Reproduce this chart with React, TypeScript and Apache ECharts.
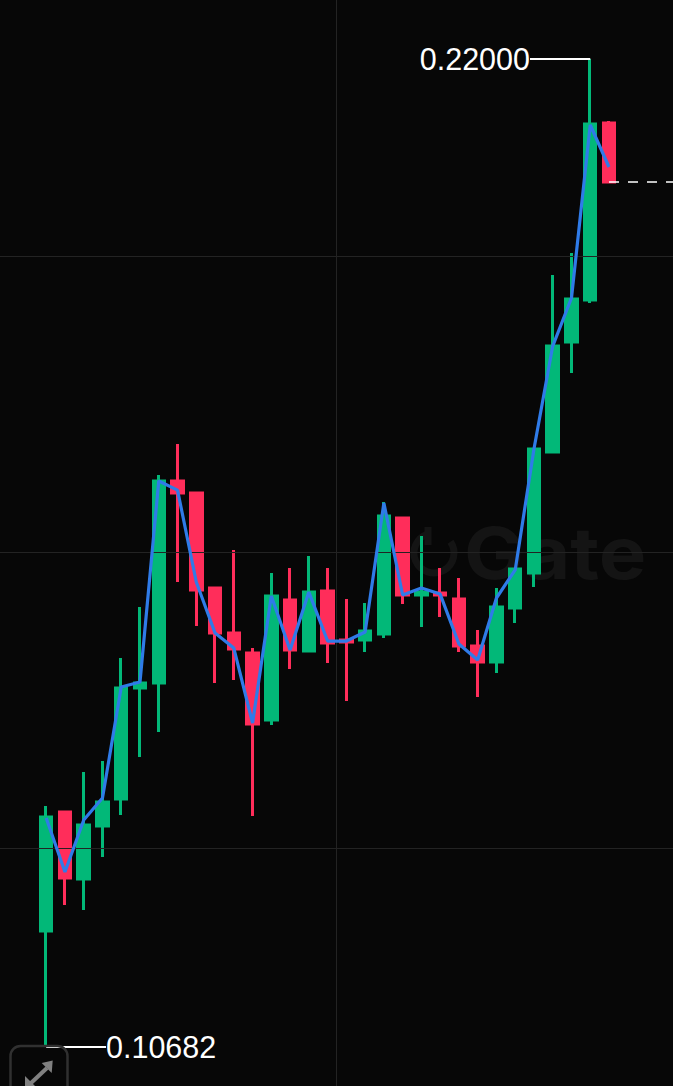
import React, { useEffect, useRef } from "react";
import * as echarts from "echarts";

const UP = "#02B878";
const DOWN = "#FF2D5A";
const BLUE = "#2F7BE8";
const BG = "#070707";
const GRID = "#232323";
const MARK = "#141414";

const leadingBlank = 1;
const trailingBlank = 2;

// [open, close, low, high]
const candles: number[][] = [
  [0.12011, 0.13317, 0.10682, 0.13443],
  [0.13374, 0.12618, 0.12309, 0.13386],
  [0.12607, 0.13225, 0.12252, 0.13833],
  [0.13214, 0.13489, 0.12859, 0.13958],
  [0.13523, 0.14795, 0.1334, 0.15138],
  [0.14795, 0.14852, 0.14004, 0.15723],
  [0.14852, 0.17166, 0.14291, 0.17235],
  [0.17166, 0.17028, 0.16009, 0.1759],
  [0.17028, 0.15917, 0.15505, 0.1704],
  [0.1594, 0.15425, 0.14852, 0.15952],
  [0.15425, 0.15242, 0.14886, 0.16376],
  [0.15196, 0.14382, 0.13329, 0.15253],
  [0.14428, 0.15849, 0.14371, 0.16112],
  [0.15803, 0.1523, 0.15012, 0.16169],
  [0.15219, 0.15894, 0.15207, 0.16307],
  [0.15906, 0.1531, 0.15081, 0.16169],
  [0.15344, 0.15322, 0.14646, 0.15814],
  [0.15344, 0.15448, 0.15207, 0.15768],
  [0.15414, 0.16765, 0.15368, 0.16925],
  [0.16742, 0.1586, 0.15757, 0.16754],
  [0.1586, 0.15894, 0.15494, 0.16536],
  [0.15883, 0.1586, 0.15608, 0.16169],
  [0.15814, 0.15276, 0.15207, 0.16055],
  [0.15276, 0.15093, 0.14692, 0.15459],
  [0.15093, 0.15723, 0.14967, 0.1594],
  [0.15711, 0.16158, 0.15539, 0.16169],
  [0.16112, 0.17532, 0.15952, 0.17544],
  [0.17498, 0.18712, 0.17487, 0.19526],
  [0.18758, 0.19251, 0.18403, 0.19778],
  [0.19239, 0.21255, 0.19205, 0.22],
  [0.21267, 0.20591, 0.2058, 0.2129],
];

const lineValues: number[] = [
  0.13306, 0.12687, 0.13283, 0.13535, 0.14806, 0.14864, 0.17166, 0.17062,
  0.16009, 0.15425, 0.15253, 0.14394, 0.15849, 0.1523, 0.15894, 0.15333,
  0.15333, 0.15436, 0.16914, 0.1586, 0.1594, 0.15871, 0.15299, 0.15116,
  0.15826, 0.16147, 0.17532, 0.18712, 0.19262, 0.21244, 0.20763,
];

const gridValues: number[] = [0.19743, 0.16353, 0.12962];
const highLabel = "0.22000";
const highValue = 0.22;
const lowLabel = "0.10682";
const lowValue = 0.10682;
const lastClose = 0.20591;
const yMin = 0.10236;
const yMax = 0.22676;

const categories = Array.from(
  { length: leadingBlank + candles.length + trailingBlank },
  (_, i) => String(i)
);
const blanks = (n: number) => Array.from({ length: n }, () => "-" as any);

const hiddenAxis = {
  axisLine: { show: false },
  axisTick: { show: false },
  axisLabel: { show: false },
  splitLine: { show: false },
};

export default function App() {
  const ref = useRef<HTMLDivElement>(null);
  useEffect(() => {
    document.body.style.margin = "0";
    document.body.style.background = BG;
    const chart = echarts.init(ref.current!, null, { renderer: "svg" });
    const label = {
      show: true,
      color: "#ffffff",
      fontSize: 30.5,
      fontFamily: "'Liberation Sans', Arial, sans-serif",
      fontWeight: 400,
      position: "end" as const,
      distance: 0,
    };
    chart.setOption({
      animation: false,
      backgroundColor: BG,
      grid: [
        { left: 18.06, right: 17.1, top: 0, bottom: 0 },
        { left: 0, right: 0, top: 0, bottom: 0 },
      ],
      xAxis: [
        { type: "category", gridIndex: 0, data: categories, boundaryGap: true, ...hiddenAxis },
        {
          type: "value",
          gridIndex: 1,
          min: 0,
          max: 2,
          interval: 1,
          axisLine: { show: false },
          axisTick: { show: false },
          axisLabel: { show: false },
          splitLine: { show: true, showMinLine: false, showMaxLine: false, lineStyle: { color: GRID, width: 1 } },
        },
      ],
      yAxis: [
        { type: "value", gridIndex: 0, min: yMin, max: yMax, ...hiddenAxis },
        { type: "value", gridIndex: 1, min: yMin, max: yMax, ...hiddenAxis },
      ],
      graphic: [
        {
          type: "text",
          z: -1,
          silent: true,
          x: 464,
          y: 552,
          scaleX: 1.11,
          style: {
            text: "Gate",
            fill: MARK,
            fontSize: 72,
            fontWeight: 700,
            fontFamily: "Inter, sans-serif",
            verticalAlign: "middle",
            align: "left",
          },
        },
        {
          type: "arc",
          z: -1,
          silent: true,
          shape: { cx: 434, cy: 553, r: 20, startAngle: -0.6, endAngle: 4.4, clockwise: true },
          style: { stroke: MARK, lineWidth: 7, fill: "none" },
        },
        {
          type: "line",
          z: -1,
          silent: true,
          shape: { x1: 428, y1: 527, x2: 428, y2: 545 },
          style: { stroke: MARK, lineWidth: 7 },
        },
        {
          type: "rect",
          z: 20,
          silent: true,
          shape: { x: 10.5, y: 1046, width: 57, height: 60, r: 10 },
          style: { stroke: "#303030", lineWidth: 2.5, fill: "none" },
        },
        {
          type: "polygon",
          z: 21,
          silent: true,
          shape: { points: [[41.7, 1063], [52.7, 1060.5], [51.7, 1073]] },
          style: { fill: "#808080" },
        },
        {
          type: "polygon",
          z: 21,
          silent: true,
          shape: { points: [[25, 1076], [25, 1088], [37, 1088]] },
          style: { fill: "#808080" },
        },
        {
          type: "line",
          z: 21,
          silent: true,
          shape: { x1: 47, y1: 1068, x2: 31, y2: 1083 },
          style: { stroke: "#808080", lineWidth: 4 },
        },
      ],
      series: [
        {
          type: "line",
          xAxisIndex: 1,
          yAxisIndex: 1,
          z: 1,
          silent: true,
          symbol: "none",
          lineStyle: { opacity: 0 },
          data: gridValues.map((v) => [1, v]),
          markLine: {
            silent: true,
            symbol: "none",
            animation: false,
            precision: 5,
            label: { show: false },
            lineStyle: { color: GRID, width: 1, type: "solid" },
            data: gridValues.map((v) => ({ yAxis: v })),
          },
        },
        {
          type: "candlestick",
          xAxisIndex: 0,
          yAxisIndex: 0,
          z: 2,
          barWidth: 12,
          data: [...blanks(leadingBlank), ...candles, ...blanks(trailingBlank)],
          itemStyle: {
            color: UP,
            color0: DOWN,
            borderColor: UP,
            borderColor0: DOWN,
            borderWidth: 3,
          },
          silent: true,
          markLine: {
            silent: true,
            symbol: "none",
            animation: false,
            precision: 5,
            data: [
              [
                {
                  coord: [leadingBlank + 29, highValue],
                  lineStyle: { color: "#ffffff", width: 2, type: "solid" },
                  label: { ...label, formatter: highLabel },
                },
                { x: 530, y: 59 },
              ],
              [
                {
                  coord: [leadingBlank, lowValue],
                  lineStyle: { color: "#ffffff", width: 2, type: "solid" },
                  label: { ...label, formatter: lowLabel },
                },
                { x: 106, y: 1047 },
              ],
              [
                {
                  coord: [leadingBlank + 30, lastClose],
                  lineStyle: { color: "#ffffff", width: 1.5, type: [10, 9] },
                  label: { show: false },
                },
                { x: 673, y: 182 },
              ],
            ],
          },
        },
        {
          type: "line",
          xAxisIndex: 0,
          yAxisIndex: 0,
          data: [...blanks(leadingBlank), ...lineValues, ...blanks(trailingBlank)],
          showSymbol: false,
          symbol: "none",
          silent: true,
          z: 5,
          lineStyle: { color: BLUE, width: 3.2 },
        },
      ],
    });
    return () => chart.dispose();
  }, []);
  return <div ref={ref} style={{ width: 673, height: 1086 }} />;
}
